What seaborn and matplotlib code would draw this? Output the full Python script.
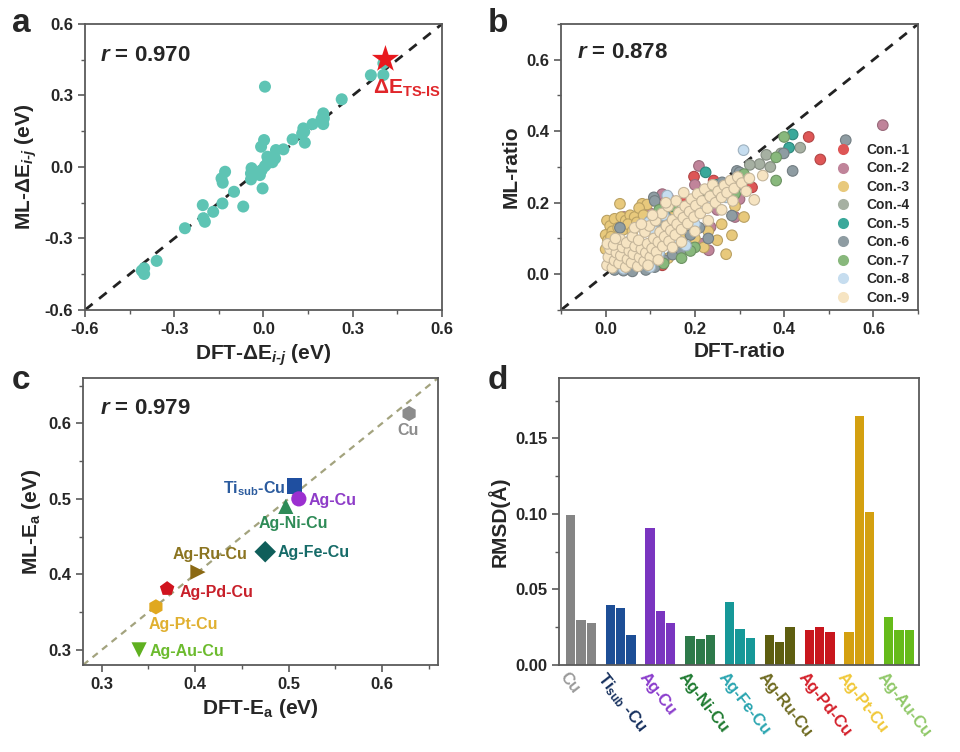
import numpy as np
import pandas as pd
import matplotlib
matplotlib.use("Agg")
import matplotlib.pyplot as plt
import matplotlib.transforms as mtrans
from matplotlib.ticker import MultipleLocator, FormatStrFormatter
import seaborn as sns

# ---------------- data ----------------
# panel a: DFT vs ML  dE_{i-j}
a_dft = [0.005, 0.263, 0.201, 0.203, 0.201, 0.165, 0.134, 0.137, 0.098, 0.139, 0.067, 0.042,
         0.039, 0.013, 0.002, -0.008, 0.013, 0.005, -0.006, -0.012, -0.040, -0.042, -0.042,
         -0.003, -0.129, -0.141, -0.137, -0.099, -0.068, -0.138, -0.169, -0.204, -0.202,
         -0.197, -0.264, -0.359, -0.401, -0.401, -0.409, 0.361, 0.403, 0.403, 0.025, 0.030,
         -0.030, 0.195, 0.130]
a_ml = [0.337, 0.284, 0.225, 0.204, 0.180, 0.180, 0.162, 0.148, 0.116, 0.102, 0.074, 0.071,
        0.036, 0.043, 0.113, 0.085, 0.015, 0.004, -0.013, -0.034, -0.005, -0.027, -0.052,
        -0.090, -0.020, -0.048, -0.066, -0.104, -0.166, -0.153, -0.188, -0.160, -0.215,
        -0.230, -0.257, -0.394, -0.425, -0.449, -0.435, 0.385, 0.435, 0.386, 0.040, 0.020,
        -0.020, 0.200, 0.140]
star_dft = [0.410]
star_ml = [0.452]

# panel b: DFT-ratio vs ML-ratio, 9 configurations
con1 = [(0.455, 0.384), (0.481, 0.321), (0.127, 0.025), (0.130, 0.200), (0.198, 0.273),
        (0.242, 0.262), (0.328, 0.243), (0.180, 0.210), (0.150, 0.080), (0.280, 0.230)]
con2 = [(0.621, 0.417), (0.209, 0.303), (0.231, 0.067), (0.216, 0.085), (0.235, 0.132),
        (0.041, 0.160), (0.127, 0.224), (0.140, 0.215), (0.250, 0.180), (0.290, 0.160),
        (0.200, 0.250), (0.300, 0.210), (0.100, 0.170)]
con3 = [(0.032, 0.197), (0.082, 0.197), (0.093, 0.195), (0.003, 0.150), (0.010, 0.135),
        (0.020, 0.155), (0.035, 0.160), (0.045, 0.150), (0.055, 0.165), (0.065, 0.160),
        (0.075, 0.185), (0.000, 0.110), (0.005, 0.095), (0.015, 0.120), (0.028, 0.130),
        (0.040, 0.125), (0.050, 0.140), (0.060, 0.120), (0.070, 0.145), (0.085, 0.165),
        (0.100, 0.150), (0.110, 0.125), (0.000, 0.070), (0.012, 0.105), (0.150, 0.160),
        (0.180, 0.110), (0.200, 0.100), (0.230, 0.120), (0.260, 0.140), (0.283, 0.109),
        (0.270, 0.056), (0.290, 0.190), (0.310, 0.160), (0.250, 0.095), (0.220, 0.075),
        (0.160, 0.060), (0.140, 0.045)]
con4 = [(0.436, 0.354), (0.360, 0.334), (0.345, 0.308), (0.369, 0.300), (0.323, 0.306),
        (0.393, 0.338), (0.300, 0.250), (0.250, 0.230), (0.220, 0.190), (0.180, 0.170),
        (0.140, 0.120), (0.080, 0.050)]
con5 = [(0.419, 0.391), (0.411, 0.354), (0.224, 0.285), (0.130, 0.175), (0.190, 0.195),
        (0.250, 0.250), (0.160, 0.130), (0.300, 0.280)]
con6 = [(0.538, 0.375), (0.419, 0.289), (0.399, 0.338), (0.283, 0.164), (0.108, 0.215),
        (0.261, 0.257), (0.294, 0.289), (0.110, 0.205), (0.040, 0.010), (0.090, 0.012),
        (0.110, 0.020), (0.130, 0.040), (0.150, 0.055), (0.170, 0.065), (0.120, 0.140),
        (0.140, 0.155), (0.190, 0.110), (0.210, 0.130), (0.230, 0.100), (0.060, 0.008),
        (0.020, 0.012), (0.300, 0.285), (0.250, 0.240), (0.032, 0.130), (0.160, 0.090)]
con7 = [(0.400, 0.384), (0.382, 0.262), (0.382, 0.327), (0.200, 0.075), (0.190, 0.065),
        (0.170, 0.045), (0.230, 0.230), (0.250, 0.215), (0.280, 0.250), (0.310, 0.280),
        (0.150, 0.190), (0.120, 0.180), (0.130, 0.030), (0.210, 0.205), (0.180, 0.180),
        (0.290, 0.225)]
con8 = [(0.309, 0.347), (0.138, 0.220), (0.097, 0.146), (0.032, 0.090), (0.056, 0.095),
        (0.080, 0.085), (0.110, 0.120), (0.120, 0.060), (0.150, 0.100), (0.170, 0.150),
        (0.200, 0.140), (0.240, 0.200), (0.270, 0.215), (0.290, 0.255), (0.015, 0.020),
        (0.040, 0.015), (0.070, 0.030), (0.100, 0.020), (0.180, 0.080), (0.130, 0.165),
        (0.265, 0.240), (0.210, 0.180)]
con9 = [(0.003, 0.025), (0.006, 0.048), (0.010, 0.070), (0.004, 0.085), (0.015, 0.018),
        (0.020, 0.038), (0.024, 0.060), (0.018, 0.082), (0.030, 0.030), (0.034, 0.052),
        (0.038, 0.075), (0.033, 0.098), (0.045, 0.020), (0.049, 0.042), (0.053, 0.065),
        (0.047, 0.088), (0.058, 0.032), (0.062, 0.056), (0.066, 0.078), (0.060, 0.105),
        (0.072, 0.022), (0.076, 0.047), (0.080, 0.070), (0.074, 0.095), (0.086, 0.036),
        (0.090, 0.060), (0.094, 0.085), (0.088, 0.118), (0.100, 0.048), (0.104, 0.072),
        (0.108, 0.100), (0.098, 0.135), (0.114, 0.062), (0.118, 0.090), (0.122, 0.118),
        (0.112, 0.150), (0.128, 0.078), (0.132, 0.105), (0.136, 0.135), (0.126, 0.170),
        (0.142, 0.092), (0.146, 0.122), (0.150, 0.152), (0.140, 0.190), (0.156, 0.110),
        (0.160, 0.140), (0.164, 0.172), (0.158, 0.205), (0.170, 0.125), (0.174, 0.158),
        (0.178, 0.190), (0.184, 0.142), (0.188, 0.175), (0.192, 0.210), (0.198, 0.160),
        (0.202, 0.192), (0.206, 0.225), (0.212, 0.170), (0.216, 0.205), (0.222, 0.238),
        (0.228, 0.185), (0.234, 0.218), (0.240, 0.250), (0.246, 0.200), (0.252, 0.232),
        (0.260, 0.215), (0.266, 0.248), (0.272, 0.228), (0.280, 0.262), (0.288, 0.240),
        (0.296, 0.272), (0.305, 0.255), (0.315, 0.232), (0.322, 0.268), (0.333, 0.208),
        (0.352, 0.276), (0.118, 0.040), (0.095, 0.025), (0.150, 0.075), (0.170, 0.090),
        (0.200, 0.120), (0.230, 0.150), (0.260, 0.180), (0.022, 0.100), (0.065, 0.130),
        (0.080, 0.140), (0.105, 0.165), (0.135, 0.200), (0.175, 0.228), (0.285, 0.205)]
con_names = ["Con.-1", "Con.-2", "Con.-3", "Con.-4", "Con.-5",
             "Con.-6", "Con.-7", "Con.-8", "Con.-9"]
con_data = [con1, con2, con3, con4, con5, con6, con7, con8, con9]
con_colors = ["#de5656", "#c0849a", "#e8c97c", "#a6b0a2", "#3aa89a",
              "#8e9ca2", "#88b87c", "#c6ddef", "#f6e4c2"]

# panel c: DFT-Ea vs ML-Ea
c_names = ["Cu", "Ti$_{\\mathrm{sub}}$-Cu", "Ag-Cu", "Ag-Ni-Cu", "Ag-Fe-Cu",
           "Ag-Ru-Cu", "Ag-Pd-Cu", "Ag-Pt-Cu", "Ag-Au-Cu"]
c_dft = [0.629, 0.506, 0.511, 0.497, 0.475, 0.403, 0.370, 0.358, 0.340]
c_ml = [0.613, 0.517, 0.500, 0.490, 0.430, 0.403, 0.381, 0.357, 0.300]
c_markers = ["h", "s", "o", "^", "D", ">", "p", "h", "v"]
c_colors = ["#8c8c8c", "#1f4fa0", "#9b30d0", "#2e8b57", "#0f5e5a",
            "#8b6914", "#d0141e", "#e0a820", "#5fb020"]
c_label_colors = ["#8c8c8c", "#2b5b9e", "#8e3cc8", "#2e8b57", "#166b68",
                  "#8b7420", "#c8202a", "#e0b030", "#6cbb2e"]

# panel d: RMSD bars (3 per system)
d_groups = ["Cu", "Ti$_{\\mathrm{sub}}$ -Cu", "Ag-Cu", "Ag-Ni-Cu", "Ag-Fe-Cu",
            "Ag-Ru-Cu", "Ag-Pd-Cu", "Ag-Pt-Cu", "Ag-Au-Cu"]
d_rmsd1 = [0.099, 0.040, 0.091, 0.019, 0.042, 0.020, 0.023, 0.022, 0.032]
d_rmsd2 = [0.030, 0.038, 0.036, 0.017, 0.024, 0.015, 0.025, 0.165, 0.023]
d_rmsd3 = [0.028, 0.020, 0.028, 0.020, 0.018, 0.025, 0.022, 0.101, 0.023]
d_colors = ["#858585", "#1d4e96", "#7a35c0", "#2e7a4a", "#169898",
            "#5e5e10", "#c8161d", "#d4a010", "#66bb1a"]
d_label_colors = ["#9a9a9a", "#16305e", "#8a3ccc", "#1e7a30", "#2aa5b0",
                  "#6e6a20", "#d4202a", "#f0c838", "#90c868"]

# ---------------- style ----------------
sns.set_theme(style="white")
plt.rcParams["font.family"] = ["Liberation Sans", "DejaVu Sans"]
plt.rcParams["font.weight"] = "bold"
plt.rcParams["axes.labelweight"] = "bold"
plt.rcParams["axes.unicode_minus"] = False
plt.rcParams["mathtext.fontset"] = "custom"
plt.rcParams["mathtext.rm"] = "Liberation Sans:bold"
plt.rcParams["mathtext.it"] = "Liberation Sans:italic:bold"
plt.rcParams["mathtext.bf"] = "Liberation Sans:bold"

SPINE = "#5a5a5a"
TICK_FS = 12
LABEL_FS = 15

fig = plt.figure(figsize=(9.6, 7.52), dpi=100)
axa = fig.add_axes([0.0885, 0.5878, 0.3719, 0.3803])
axb = fig.add_axes([0.5844, 0.5878, 0.3719, 0.3803])
axc = fig.add_axes([0.0865, 0.1157, 0.3698, 0.3816])
axd = fig.add_axes([0.5823, 0.1157, 0.3750, 0.3816])


def style_axes(ax):
    for s in ax.spines.values():
        s.set_visible(True)
        s.set_color(SPINE)
        s.set_linewidth(1.3)
    ax.tick_params(which="major", direction="out", length=5, width=1.2, color=SPINE,
                   labelsize=TICK_FS, bottom=True, left=True)
    ax.tick_params(which="minor", direction="out", length=3, width=1.0, color=SPINE,
                   bottom=True, left=True)
    for lab in ax.get_xticklabels() + ax.get_yticklabels():
        lab.set_fontweight("bold")


# ---------------- panel a ----------------
df_a = pd.DataFrame({"dft": a_dft, "ml": a_ml})
sns.scatterplot(data=df_a, x="dft", y="ml", ax=axa, color="#5ec4b4", s=75,
                edgecolor="none", zorder=3)
axa.axline((0, 0), slope=1, color="#222222", lw=2, dashes=(3.5, 3), zorder=2)
df_star = pd.DataFrame({"dft": star_dft, "ml": star_ml})
sns.scatterplot(data=df_star, x="dft", y="ml", ax=axa, marker="*", color="#e8191e",
                s=420, edgecolor="none", zorder=4)
axa.text(0.368, 0.331, r"ΔE$_{\mathrm{TS\text{-}IS}}$", color="#e0262a", fontsize=15,
         fontweight="bold", ha="left", va="center")
axa.set_xlim(-0.6, 0.6)
axa.set_ylim(-0.6, 0.6)
axa.xaxis.set_major_locator(MultipleLocator(0.3))
axa.yaxis.set_major_locator(MultipleLocator(0.3))
axa.xaxis.set_minor_locator(MultipleLocator(0.15))
axa.yaxis.set_minor_locator(MultipleLocator(0.15))
axa.xaxis.set_major_formatter(FormatStrFormatter("%.1f"))
axa.yaxis.set_major_formatter(FormatStrFormatter("%.1f"))
axa.set_xlabel(r"DFT-ΔE$_{i\text{-}j}$ (eV)", fontsize=LABEL_FS, fontweight="bold")
axa.set_ylabel(r"ML-ΔE$_{i\text{-}j}$ (eV)", fontsize=LABEL_FS, fontweight="bold")
axa.text(0.042, 0.89, r"$r$ = 0.970", transform=axa.transAxes, fontsize=16,
         fontweight="bold", ha="left", va="center")
style_axes(axa)

# ---------------- panel b ----------------
rows = []
for name, pts in zip(con_names, con_data):
    for x, y in pts:
        rows.append({"dft": x, "ml": y, "con": name})
df_b = pd.DataFrame(rows)
sns.scatterplot(data=df_b, x="dft", y="ml", hue="con", hue_order=con_names,
                palette=con_colors, s=58, ax=axb, zorder=3, linewidth=0.8, legend=False)
coll = axb.collections[-1]
fc = coll.get_facecolors()
ec = [tuple(np.clip(np.array(c[:3]) * 0.8, 0, 1)) + (1.0,) for c in fc]
coll.set_edgecolors(ec)
axb.axline((0, 0), slope=1, color="#222222", lw=2, dashes=(3.5, 3), zorder=2)
handles = [plt.Line2D([], [], marker="o", ls="", color=c, markersize=8,
                      markeredgecolor="none") for c in con_colors]
axb.legend(handles, con_names, loc="lower right", frameon=False,
           handletextpad=0.7, labelspacing=0.32, borderaxespad=0.2,
           bbox_to_anchor=(1.0, -0.01),
           prop={"weight": "bold", "size": 10})
axb.set_xlim(-0.1, 0.7)
axb.set_ylim(-0.1, 0.7)
axb.xaxis.set_major_locator(MultipleLocator(0.2))
axb.yaxis.set_major_locator(MultipleLocator(0.2))
axb.xaxis.set_minor_locator(MultipleLocator(0.1))
axb.yaxis.set_minor_locator(MultipleLocator(0.1))
axb.xaxis.set_major_formatter(FormatStrFormatter("%.1f"))
axb.yaxis.set_major_formatter(FormatStrFormatter("%.1f"))
axb.set_xlabel("DFT-ratio", fontsize=LABEL_FS, fontweight="bold")
axb.set_ylabel("ML-ratio", fontsize=LABEL_FS, fontweight="bold")
axb.text(0.044, 0.90, r"$r$ = 0.878", transform=axb.transAxes, fontsize=16,
         fontweight="bold", ha="left", va="center")
style_axes(axb)

# ---------------- panel c ----------------
df_c = pd.DataFrame({"dft": c_dft, "ml": c_ml, "sys": c_names})
axc.axline((0.3, 0.3), slope=1, color="#a3a37e", lw=1.6, dashes=(3, 2.5), zorder=1)
sns.scatterplot(data=df_c, x="dft", y="ml", hue="sys", style="sys",
                hue_order=c_names, style_order=c_names,
                palette=c_colors, markers=dict(zip(c_names, c_markers)),
                s=120, edgecolor="none", legend=False, ax=axc, zorder=3)
label_pos = [(0.628, 0.590, "center"), (0.497, 0.514, "right"), (0.521, 0.498, "left"),
             (0.468, 0.468, "left"), (0.488, 0.429, "left"), (0.376, 0.426, "left"),
             (0.383, 0.376, "left"), (0.350, 0.334, "left"), (0.351, 0.298, "left")]
for name, col, (lx, ly, ha) in zip(c_names, c_label_colors, label_pos):
    axc.text(lx, ly, name, color=col, fontsize=11.5, fontweight="bold", ha=ha, va="center")
axc.set_xlim(0.28, 0.66)
axc.set_ylim(0.28, 0.66)
axc.xaxis.set_major_locator(MultipleLocator(0.1))
axc.yaxis.set_major_locator(MultipleLocator(0.1))
axc.xaxis.set_minor_locator(MultipleLocator(0.05))
axc.yaxis.set_minor_locator(MultipleLocator(0.05))
axc.xaxis.set_major_formatter(FormatStrFormatter("%.1f"))
axc.yaxis.set_major_formatter(FormatStrFormatter("%.1f"))
axc.set_xlabel(r"DFT-E$_{\mathrm{a}}$ (eV)", fontsize=LABEL_FS, fontweight="bold")
axc.set_ylabel(r"ML-E$_{\mathrm{a}}$ (eV)", fontsize=LABEL_FS, fontweight="bold")
axc.text(0.048, 0.894, r"$r$ = 0.979", transform=axc.transAxes, fontsize=16,
         fontweight="bold", ha="left", va="center")
style_axes(axc)

# ---------------- panel d ----------------
df_d = pd.DataFrame({
    "sys": d_groups * 3,
    "rep": ["1"] * 9 + ["2"] * 9 + ["3"] * 9,
    "rmsd": d_rmsd1 + d_rmsd2 + d_rmsd3,
})
sns.barplot(data=df_d, x="sys", y="rmsd", hue="rep", order=d_groups,
            width=0.78, gap=0.1, legend=False, ax=axd, errorbar=None)
for cont in axd.containers:
    for patch, col in zip(cont, d_colors):
        patch.set_facecolor(col)
        patch.set_edgecolor("none")
axd.set_xlim(-0.55, 8.5)
axd.set_ylim(0, 0.19)
axd.yaxis.set_major_locator(MultipleLocator(0.05))
axd.yaxis.set_minor_locator(MultipleLocator(0.025))
axd.yaxis.set_major_formatter(FormatStrFormatter("%.2f"))
axd.set_xlabel("")
axd.set_ylabel("RMSD(Å)", fontsize=LABEL_FS, fontweight="bold")
style_axes(axd)
axd.tick_params(axis="x", which="both", length=0)
axd.set_xticks(range(len(d_groups)))
axd.set_xticklabels(d_groups, rotation=-52, ha="left", va="top",
                    rotation_mode="anchor", fontsize=12, fontweight="bold")
offset = mtrans.ScaledTranslation(-9 / 72, 0, fig.dpi_scale_trans)
for lab, col in zip(axd.get_xticklabels(), d_label_colors):
    lab.set_color(col)
    lab.set_transform(lab.get_transform() + offset)

# panel letters
for letter, (x, y) in zip("abcd", [(0.012, 0.99), (0.508, 0.99), (0.012, 0.515), (0.508, 0.515)]):
    fig.text(x, y, letter, fontsize=24, fontweight="bold", ha="left", va="top")

fig.savefig("out.png", dpi=100)
